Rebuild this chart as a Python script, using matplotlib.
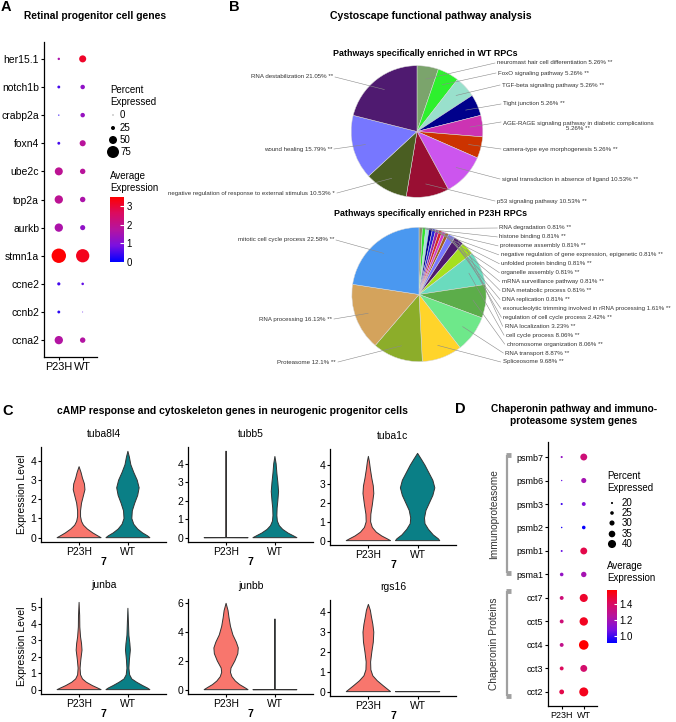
import numpy as np
import matplotlib
matplotlib.use('Agg')
import matplotlib.pyplot as plt
from matplotlib.colors import LinearSegmentedColormap, Normalize
from matplotlib.cm import ScalarMappable

plt.rcParams['font.family'] = ['Liberation Sans', 'DejaVu Sans']

W, H = 676, 722

# ---------------- panel A : retinal progenitor dot plot
a_genes = ['her15.1', 'notch1b', 'crabp2a', 'foxn4', 'ube2c', 'top2a',
           'aurkb', 'stmn1a', 'ccne2', 'ccnb2', 'ccna2']
groups = ['P23H', 'WT']
a_pct_p23h = [15, 18, 8, 18, 50, 52, 52, 90, 20, 18, 52]
a_pct_wt = [44, 28, 28, 38, 34, 34, 32, 83, 16, 5, 34]
a_avg_p23h = [1.6, 0.5, 0.3, 0.5, 1.9, 1.9, 1.6, 3.45, 0.5, 0.3, 1.7]
a_avg_wt = [3.1, 1.2, 1.3, 1.8, 1.8, 1.6, 1.2, 3.2, 0.7, 0.6, 1.7]
a_size_legend = [0, 25, 50, 75]
a_color_ticks = [0, 1, 2, 3]

# ---------------- panel B : pathway pies
wt_names = ['neuromast hair cell differentiation', 'FoxO signaling pathway',
            'TGF-beta signaling pathway', 'Tight junction',
            'AGE-RAGE signaling pathway in diabetic complications\n',
            'camera-type eye morphogenesis',
            'signal transduction in absence of ligand',
            'p53 signaling pathway',
            'negative regulation of response to external stimulus',
            'wound healing', 'RNA destabilization']
wt_pct = [5.26, 5.26, 5.26, 5.26, 5.26, 5.26, 10.53, 10.53, 10.53, 15.79, 21.05]
wt_stars = ['**'] * 8 + ['*', '**', '**']
wt_colors = ['#7BA46C', '#2EF02E', '#99E0CC', '#00008B', '#CC33B3', '#CC3300',
             '#CC55EE', '#990F33', '#4A5E22', '#7777FF', '#4F1A70']

p23h_names = ['RNA degradation', 'histone binding', 'proteasome assembly',
              'negative regulation of gene expression, epigenetic',
              'unfolded protein binding', 'organelle assembly',
              'mRNA surveillance pathway', 'DNA metabolic process',
              'DNA replication',
              'exonucleolytic trimming involved in rRNA processing',
              'regulation of cell cycle process', 'RNA localization',
              'cell cycle process', 'chromosome organization', 'RNA transport',
              'Spliceosome', 'Proteasome', 'RNA processing',
              'mitotic cell cycle process']
p23h_pct = [0.81] * 9 + [1.61, 2.42, 3.23, 8.06, 8.06, 8.87, 9.68, 12.1, 16.13, 22.58]
p23h_colors = ['#8C8C6A', '#2EE62E', '#9FE6D4', '#00008B', '#2424D6', '#9A1FA3',
               '#D62828', '#D633C8', '#A35A1F', '#7777FF', '#4F1A70', '#A6E01F',
               '#6ADBBE', '#5CAD4A', '#6EE88A', '#FFD42A', '#8CAD2A', '#D4A35C',
               '#4A98F0']

# ---------------- panel C : violin outlines (level, half width)
tuba8l4_p23h = [(0, .45), (.1, .38), (.25, .28), (.45, .17), (.65, .09), (.85, .05),
                (1.1, .03), (1.4, .03), (1.8, .05), (2.2, .09), (2.5, .12), (2.8, .11),
                (3.1, .07), (3.4, .04), (3.7, 0)]
tuba8l4_wt = [(0, .45), (.1, .4), (.25, .3), (.45, .2), (.7, .12), (1.0, .08), (1.4, .09),
              (1.8, .14), (2.2, .2), (2.6, .23), (3.0, .19), (3.4, .12), (3.8, .06),
              (4.2, .03), (4.5, 0)]
tubb5_p23h = [(0, .45), (.005, .006), (4.68, .006), (4.68, 0)]
tubb5_wt = [(0, .45), (.1, .38), (.25, .27), (.45, .16), (.65, .09), (.9, .05), (1.2, .04),
            (1.6, .045), (2.0, .06), (2.5, .075), (3.0, .06), (3.5, .04), (4.0, .025),
            (4.4, 0)]
tuba1c_p23h = [(0, .45), (.1, .38), (.25, .27), (.45, .16), (.7, .08), (1.0, .045),
               (1.4, .05), (1.9, .08), (2.5, .11), (2.9, .1), (3.3, .07), (3.8, .04),
               (4.2, .02), (4.47, 0)]
tuba1c_wt = [(0, .45), (.1, .42), (.3, .32), (.6, .22), (.9, .15), (1.2, .14), (1.6, .17),
             (2.0, .24), (2.4, .31), (2.8, .35), (3.2, .31), (3.6, .23), (4.0, .15),
             (4.3, .08), (4.63, 0)]
junba_p23h = [(0, .45), (.1, .38), (.25, .27), (.45, .15), (.65, .07), (.9, .03), (1.3, .02),
              (1.8, .035), (2.4, .06), (2.8, .05), (3.2, .03), (3.8, .015), (4.5, .012),
              (5.3, 0)]
junba_wt = [(0, .45), (.1, .4), (.25, .3), (.45, .18), (.65, .08), (.9, .035), (1.3, .02),
            (1.8, .03), (2.4, .05), (2.8, .04), (3.3, .02), (4.0, .012), (4.94, 0)]
junbb_p23h = [(0, .45), (.15, .38), (.35, .28), (.6, .19), (.9, .12), (1.2, .09), (1.5, .1),
              (2.0, .18), (2.5, .24), (2.9, .25), (3.3, .21), (3.8, .14), (4.4, .09),
              (5.0, .06), (5.5, .04), (6.0, 0)]
junbb_wt = [(0, .45), (.005, .006), (4.9, .006), (4.9, 0)]
rgs16_p23h = [(0, .45), (.1, .4), (.3, .3), (.55, .18), (.8, .09), (1.1, .05), (1.5, .045),
              (2.0, .07), (2.5, .1), (3.0, .11), (3.4, .09), (3.8, .06), (4.1, .04), (4.4, 0)]
rgs16_wt = [(0, .45), (.002, 0)]

c_genes = ['tuba8l4', 'tubb5', 'tuba1c', 'junba', 'junbb', 'rgs16']
c_violins = [(tuba8l4_p23h, tuba8l4_wt), (tubb5_p23h, tubb5_wt), (tuba1c_p23h, tuba1c_wt),
             (junba_p23h, junba_wt), (junbb_p23h, junbb_wt), (rgs16_p23h, rgs16_wt)]

# ---------------- panel D : chaperonin / immunoproteasome dot plot
d_genes = ['psmb7', 'psmb6', 'psmb3', 'psmb2', 'psmb1', 'psma1',
           'cct7', 'cct5', 'cct4', 'cct3', 'cct2']
d_pct_p23h = [20, 17.5, 20, 18, 19.5, 25, 26, 26, 26, 26, 29]
d_pct_wt = [36, 30, 26, 25, 36, 31, 40, 41, 45, 36, 43]
d_avg_p23h = [1.15, 1.05, 1.0, 0.95, 1.05, 1.15, 1.35, 1.35, 1.3, 1.42, 1.45]
d_avg_wt = [1.35, 1.2, 1.1, 0.92, 1.45, 1.2, 1.5, 1.52, 1.58, 1.38, 1.53]
d_size_legend = [20, 25, 30, 35, 40]
d_color_ticks = [1.0, 1.2, 1.4]

# ------------------------------------------------------------------
cmap = LinearSegmentedColormap.from_list(
    'bluered', ['#0000FF', '#7A10E0', '#B5149F', '#DA0B60', '#FF0000'])


def rect(x0, y0, x1, y1):
    return [x0 / W, 1 - y1 / H, (x1 - x0) / W, (y1 - y0) / H]


def size_a(p):
    d = np.maximum(0.16 * np.asarray(p, float), 0.9)
    return (d * 0.72) ** 2


def size_d(p):
    d = np.maximum(0.3 * (np.asarray(p, float) - 13), 0.9)
    return (d * 0.72) ** 2


fig = plt.figure(figsize=(W / 100, H / 100), dpi=100)


def dotplot(box, genes, pa, pb, ca, cb, norm, size_fn, fs_y, fs_x, ylim_top):
    ax = fig.add_axes(rect(*box))
    n = len(genes)
    ys = np.arange(n)[::-1]
    for xi, (p, c) in enumerate([(pa, ca), (pb, cb)]):
        ax.scatter(np.full(n, xi), ys, s=size_fn(p), c=c, cmap=cmap, norm=norm,
                   edgecolors='none', zorder=3)
    ax.set_xlim(-0.62, 1.6)
    ax.set_ylim(-0.6, ylim_top)
    ax.set_yticks(ys)
    ax.set_yticklabels(genes, fontsize=fs_y)
    ax.set_xticks([0, 1])
    ax.set_xticklabels(groups, fontsize=fs_x)
    for s in ['top', 'right']:
        ax.spines[s].set_visible(False)
    for s in ['left', 'bottom']:
        ax.spines[s].set_linewidth(0.9)
    ax.tick_params(length=2.5, width=0.8, pad=1)
    ax.set_facecolor('none')
    return ax


# panel A
norm_a = Normalize(0, 3.47)
dotplot((44, 42, 97, 357), a_genes, a_pct_p23h, a_pct_wt, a_avg_p23h, a_avg_wt,
        norm_a, size_a, 7.5, 7.8, 10.6)
cax = fig.add_axes(rect(110, 197, 124, 262))
cb = fig.colorbar(ScalarMappable(norm_a, cmap), cax=cax, ticks=a_color_ticks)
cb.outline.set_visible(False)
cax.tick_params(labelsize=7, length=3, color='white', direction='in', pad=2)

# panel D
norm_d = Normalize(0.91, 1.58)
dotplot((548, 442, 597, 706), d_genes, d_pct_p23h, d_pct_wt, d_avg_p23h, d_avg_wt,
        norm_d, size_d, 6.5, 6.5, 10.64)
cax = fig.add_axes(rect(607, 590, 617, 643))
cb = fig.colorbar(ScalarMappable(norm_d, cmap), cax=cax, ticks=d_color_ticks)
cb.outline.set_visible(False)
cax.tick_params(labelsize=7, length=2.5, color='white', direction='in', pad=2)

# panel C violins
c_boxes = [(41, 447, 166, 542), (188, 447, 313, 542), (330, 449, 456, 545),
           (41, 598, 166, 694), (188, 599, 313, 694), (330, 600, 456, 696)]
c_steps = [1, 1, 1, 1, 2, 1]
v_colors = ['#F8766D', '#0A7F86']
for i, (gene, box, pair, step) in enumerate(zip(c_genes, c_boxes, c_violins, c_steps)):
    ax = fig.add_axes(rect(*box))
    ymax = max(max(l for l, w in prof) for prof in pair)
    for xi, prof in enumerate(pair):
        lv = np.array([l for l, w in prof])
        hw = np.array([w for l, w in prof])
        xs = np.concatenate([xi - hw, (xi + hw)[::-1]])
        yv = np.concatenate([lv, lv[::-1]])
        ax.fill(xs, yv, facecolor=v_colors[xi], edgecolor='#333333', lw=0.7,
                joinstyle='round')
    ax.set_xlim(-0.78, 1.78)
    ax.set_ylim(-0.05 * ymax, 1.05 * ymax)
    ax.set_yticks(np.arange(0, ymax + 0.01, step))
    ax.set_xticks([0, 1])
    ax.set_xticklabels(groups, fontsize=7.5)
    ax.tick_params(axis='y', labelsize=7.5, length=2.5, width=0.8, pad=1)
    ax.tick_params(axis='x', length=2.5, width=0.8, pad=1)
    ax.set_xlabel('7', fontsize=7.5, fontweight='bold', labelpad=0)
    ax.set_title(gene, fontsize=7.5, pad=7)
    for s in ['top', 'right']:
        ax.spines[s].set_visible(False)
    for s in ['left', 'bottom']:
        ax.spines[s].set_linewidth(0.9)
    if i % 3 == 0:
        ax.set_ylabel('Expression Level', fontsize=7.5, labelpad=2)

# panel B pies
pies = [((417, 131.5, 66.5), wt_names, wt_pct, wt_colors),
        ((419, 294.5, 67.8), p23h_names, p23h_pct, p23h_colors)]
for (cx, cy, r), names, pct, cols in pies:
    pax = fig.add_axes(rect(cx - r, cy - r, cx + r, cy + r))
    pax.pie(pct, colors=cols, startangle=90, counterclock=False,
            wedgeprops=dict(linewidth=0.35, edgecolor='#d8d8d8'))
    pax.set_xlim(-1.01, 1.01)
    pax.set_ylim(-1.01, 1.01)
    pax.axis('off')

# overlay for texts, legends, leader lines
ov = fig.add_axes([0, 0, 1, 1])
ov.set_xlim(0, W)
ov.set_ylim(H, 0)
ov.axis('off')
ov.patch.set_visible(False)

for letter, x, y in [('A', 1, 7), ('B', 229, 7), ('C', 2, 411), ('D', 455, 409)]:
    ov.text(x, y, letter, fontsize=10.5, fontweight='bold', ha='left', va='center')

ov.text(95, 16, 'Retinal progenitor cell genes', fontsize=7.4, fontweight='bold',
        ha='center', va='center')
ov.text(431, 16, 'Cystoscape functional pathway analysis', fontsize=7.6,
        fontweight='bold', ha='center', va='center')
ov.text(425, 53, 'Pathways specifically enriched in WT RPCs', fontsize=6.4,
        fontweight='bold', ha='center', va='center')
ov.text(431, 214, 'Pathways specifically enriched in P23H RPCs', fontsize=6.4,
        fontweight='bold', ha='center', va='center')
ov.text(232, 411, 'cAMP response and cytoskeleton genes in neurogenic progenitor cells',
        fontsize=7.5, fontweight='bold', ha='center', va='center')
ov.text(574, 415, 'Chaperonin pathway and immuno-\nproteasome system genes',
        fontsize=7.3, fontweight='bold', ha='center', va='center', linespacing=1.25)


def mid_point(cx, cy, r, pct, i, frac):
    tot = sum(pct)
    start = sum(pct[:i]) / tot
    th = 2 * np.pi * (start + pct[i] / tot / 2)
    return cx + frac * r * np.sin(th), cy - frac * r * np.cos(th)


def pie_labels(center, names, pct, stars, anchors, pie_frac):
    cx, cy, r = center
    for i, (nm, p, st) in enumerate(zip(names, pct, stars)):
        side, x, y = anchors[i]
        txt = f'{nm} {p:g}% {st}' if not nm.endswith('\n') else f'{nm}{p:g}% {st}'
        px, py = mid_point(cx, cy, r, pct, i, pie_frac[i])
        if side == 'R':
            ov.text(x, y, txt, fontsize=4.4, color='#333333', ha='left', va='center',
                    multialignment='center')
            ov.plot([x - 2, px], [y if '\n' not in txt else y - 4, py],
                    color='#8a8a8a', lw=0.4)
        else:
            ov.text(x, y, txt, fontsize=4.4, color='#333333', ha='right', va='center')
            ov.plot([x + 2, px], [y, py], color='#8a8a8a', lw=0.4)


wt_anchors = [('R', 497, 63), ('R', 498, 73), ('R', 502, 85), ('R', 503, 104),
              ('R', 503, 126), ('R', 503, 149), ('R', 502, 179), ('R', 497, 201),
              ('L', 335, 193), ('L', 332, 149), ('L', 333, 77)]
wt_frac = [0.8] * 11
pie_labels((417, 131.5, 66.5), wt_names, wt_pct, wt_stars, wt_anchors, wt_frac)

p23h_x = [808, 808, 810, 812, 814, 814, 815, 816, 816, 818, 820, 824, 828, 830, 826, 818]
p23h_anchors = [('R', 230 + xx / 3, 228 + k * 8.93) for k, xx in enumerate(p23h_x)]
p23h_anchors += [('L', 336, 362), ('L', 332, 319), ('L', 334, 240)]
p23h_frac = [0.97] * 12 + [0.8] * 7
pie_labels((419, 294.5, 67.8), p23h_names, p23h_pct, ['**'] * 19, p23h_anchors, p23h_frac)

# legends of dot plots
ov.text(110, 85, 'Percent\nExpressed', fontsize=7, ha='left', va='top', linespacing=1.2)
for v, y in zip(a_size_legend, [115, 128, 140, 152]):
    ov.scatter([113], [y], s=size_a([v]), color='black', edgecolors='none')
    ov.text(120, y, str(v), fontsize=7, ha='left', va='center')
ov.text(110, 171, 'Average\nExpression', fontsize=7, ha='left', va='top', linespacing=1.2)

ov.text(607, 471, 'Percent\nExpressed', fontsize=7, ha='left', va='top', linespacing=1.2)
for v, y in zip(d_size_legend, [503, 513, 523, 534, 544]):
    ov.scatter([612], [y], s=size_d([v]), color='black', edgecolors='none')
    ov.text(622, y, str(v), fontsize=7, ha='left', va='center')
ov.text(607, 561, 'Average\nExpression', fontsize=7, ha='left', va='top', linespacing=1.2)

# group brackets in panel D
for label, y0, y1 in [('Immunoproteasome', 455, 573), ('Chaperonin Proteins', 591, 696)]:
    ov.plot([507, 507], [y0, y1], color='#A0A0A0', lw=1.6, solid_capstyle='butt')
    for yy in (y0, y1):
        ov.plot([506.2, 511], [yy, yy], color='#A0A0A0', lw=3.5, solid_capstyle='butt')
    ov.text(494, (y0 + y1) / 2, label, rotation=90, fontsize=7.3, ha='center',
            va='center', color='#333333')

fig.savefig('out.png', dpi=100)
